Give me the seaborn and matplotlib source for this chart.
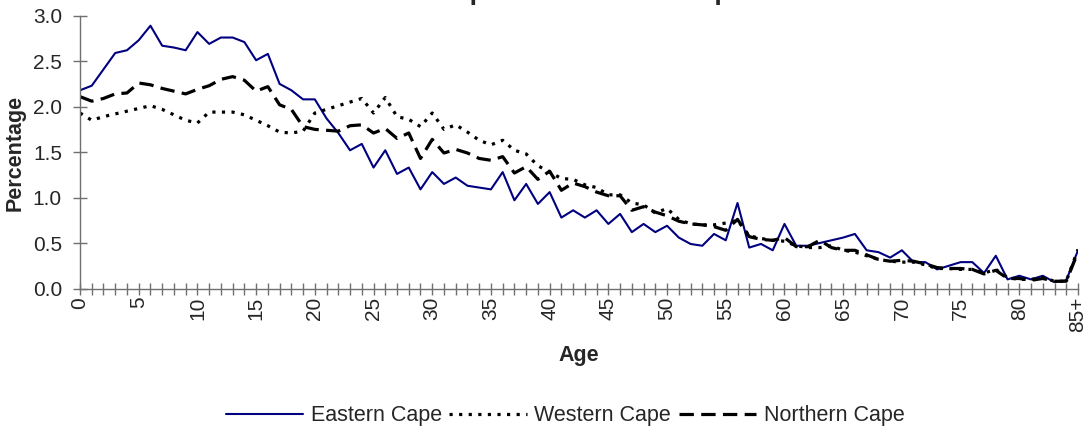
import matplotlib
matplotlib.use("Agg")
import matplotlib.pyplot as plt
import seaborn as sns

# Age groups 0..84 and 85+
ages = list(range(86))
age_tick_labels = [str(a) if a % 5 == 0 else "" for a in range(85)] + ["85+"]
y_ticks = [0.0, 0.5, 1.0, 1.5, 2.0, 2.5, 3.0]

# Percentage of population at each age
eastern_cape = [
    2.18, 2.23, 2.41, 2.59, 2.62, 2.73, 2.89, 2.67, 2.65, 2.62,
    2.82, 2.69, 2.76, 2.76, 2.71, 2.51, 2.58, 2.25, 2.18, 2.08,
    2.08, 1.87, 1.71, 1.52, 1.59, 1.33, 1.52, 1.26, 1.33, 1.09,
    1.28, 1.15, 1.22, 1.13, 1.11, 1.09, 1.28, 0.97, 1.15, 0.93,
    1.06, 0.78, 0.86, 0.78, 0.86, 0.71, 0.82, 0.62, 0.71, 0.62,
    0.69, 0.56, 0.49, 0.47, 0.60, 0.53, 0.94, 0.45, 0.49, 0.42,
    0.71, 0.47, 0.47, 0.50, 0.53, 0.56, 0.60, 0.42, 0.40, 0.34,
    0.42, 0.29, 0.29, 0.21, 0.25, 0.29, 0.29, 0.17, 0.36, 0.10,
    0.14, 0.10, 0.14, 0.07, 0.09, 0.42,
]
western_cape = [
    1.93, 1.85, 1.89, 1.92, 1.95, 1.98, 2.01, 1.97, 1.91, 1.85,
    1.82, 1.94, 1.94, 1.94, 1.91, 1.85, 1.79, 1.72, 1.71, 1.73,
    1.93, 1.97, 2.01, 2.05, 2.09, 1.93, 2.10, 1.89, 1.86, 1.78,
    1.93, 1.75, 1.80, 1.72, 1.63, 1.58, 1.63, 1.52, 1.48, 1.35,
    1.28, 1.21, 1.20, 1.14, 1.11, 1.03, 1.03, 0.94, 0.92, 0.83,
    0.88, 0.76, 0.71, 0.70, 0.70, 0.72, 0.75, 0.58, 0.55, 0.53,
    0.52, 0.47, 0.45, 0.45, 0.47, 0.42, 0.40, 0.36, 0.32, 0.30,
    0.29, 0.29, 0.26, 0.22, 0.22, 0.21, 0.21, 0.17, 0.21, 0.12,
    0.10, 0.10, 0.12, 0.08, 0.08, 0.43,
]
northern_cape = [
    2.11, 2.06, 2.09, 2.14, 2.15, 2.26, 2.24, 2.20, 2.17, 2.14,
    2.19, 2.23, 2.30, 2.33, 2.29, 2.17, 2.22, 2.02, 1.97, 1.78,
    1.75, 1.74, 1.73, 1.79, 1.80, 1.71, 1.76, 1.65, 1.71, 1.43,
    1.64, 1.49, 1.53, 1.49, 1.43, 1.41, 1.45, 1.27, 1.34, 1.20,
    1.29, 1.08, 1.16, 1.12, 1.06, 1.02, 1.02, 0.86, 0.90, 0.84,
    0.80, 0.74, 0.71, 0.70, 0.68, 0.64, 0.76, 0.57, 0.54, 0.53,
    0.56, 0.46, 0.46, 0.53, 0.45, 0.42, 0.42, 0.37, 0.32, 0.30,
    0.31, 0.30, 0.27, 0.23, 0.22, 0.22, 0.21, 0.16, 0.20, 0.11,
    0.11, 0.09, 0.11, 0.08, 0.08, 0.40,
]

sns.set_theme(style="white")
plt.rcParams["font.family"] = ["Liberation Sans", "DejaVu Sans"]
plt.rcParams["font.size"] = 15

W, H = 1092, 438
fig = plt.figure(figsize=(W / 100, H / 100), dpi=100)
ax = fig.add_axes([80 / W, 1 - 288.5 / H, 998 / W, (288.5 - 15.7) / H])

sns.lineplot(x=ages, y=eastern_cape, ax=ax, color="#000080", lw=1.5,
             label="Eastern Cape")
sns.lineplot(x=ages, y=western_cape, ax=ax, color="black", lw=2.3,
             linestyle=(0, (1.0, 2.0)), label="Western Cape")
sns.lineplot(x=ages, y=northern_cape, ax=ax, color="black", lw=2.3,
             linestyle=(0, (4.5, 2.3)), label="Northern Cape")

ax.set_xlim(0, 85)
ax.set_ylim(0, 3.0)
ax.set_xticks(ages)
ax.set_xticklabels(age_tick_labels, rotation=90, fontsize=15)
ax.set_yticks(y_ticks)
ax.set_yticklabels([f"{v:.1f}" for v in y_ticks], fontsize=15)

axis_grey = "#707070"
for side in ("top", "right"):
    ax.spines[side].set_visible(False)
for side in ("left", "bottom"):
    ax.spines[side].set_color(axis_grey)
    ax.spines[side].set_linewidth(1.0)
ax.tick_params(axis="x", direction="inout", length=8, width=1.0,
               color=axis_grey, pad=2, bottom=True)
ax.tick_params(axis="y", direction="inout", length=10, width=1.0,
               color=axis_grey, pad=8, left=True)
ax.set_xlabel("")
ax.set_ylabel("")

fig.text(15 / W, 1 - 153 / H, "Percentage", rotation=90, ha="center",
         va="center", fontsize=15.5, fontweight="bold")
fig.text(579 / W, 1 - 355 / H, "Age", ha="center", va="center",
         fontsize=15.5, fontweight="bold")
fig.text(535 / W, 1.0, "Western Cape and Northern Cape", ha="center",
         va="baseline", fontsize=19, fontweight="bold")

ax.legend_.remove()
handles, labels = ax.get_legend_handles_labels()
fig.legend(handles, labels, loc="center", bbox_to_anchor=(565 / W, 1 - 416 / H),
           ncol=3, frameon=False, fontsize=15.5, handlelength=3.6,
           handletextpad=0.35, columnspacing=0.35)

fig.savefig("out.png", dpi=100)
